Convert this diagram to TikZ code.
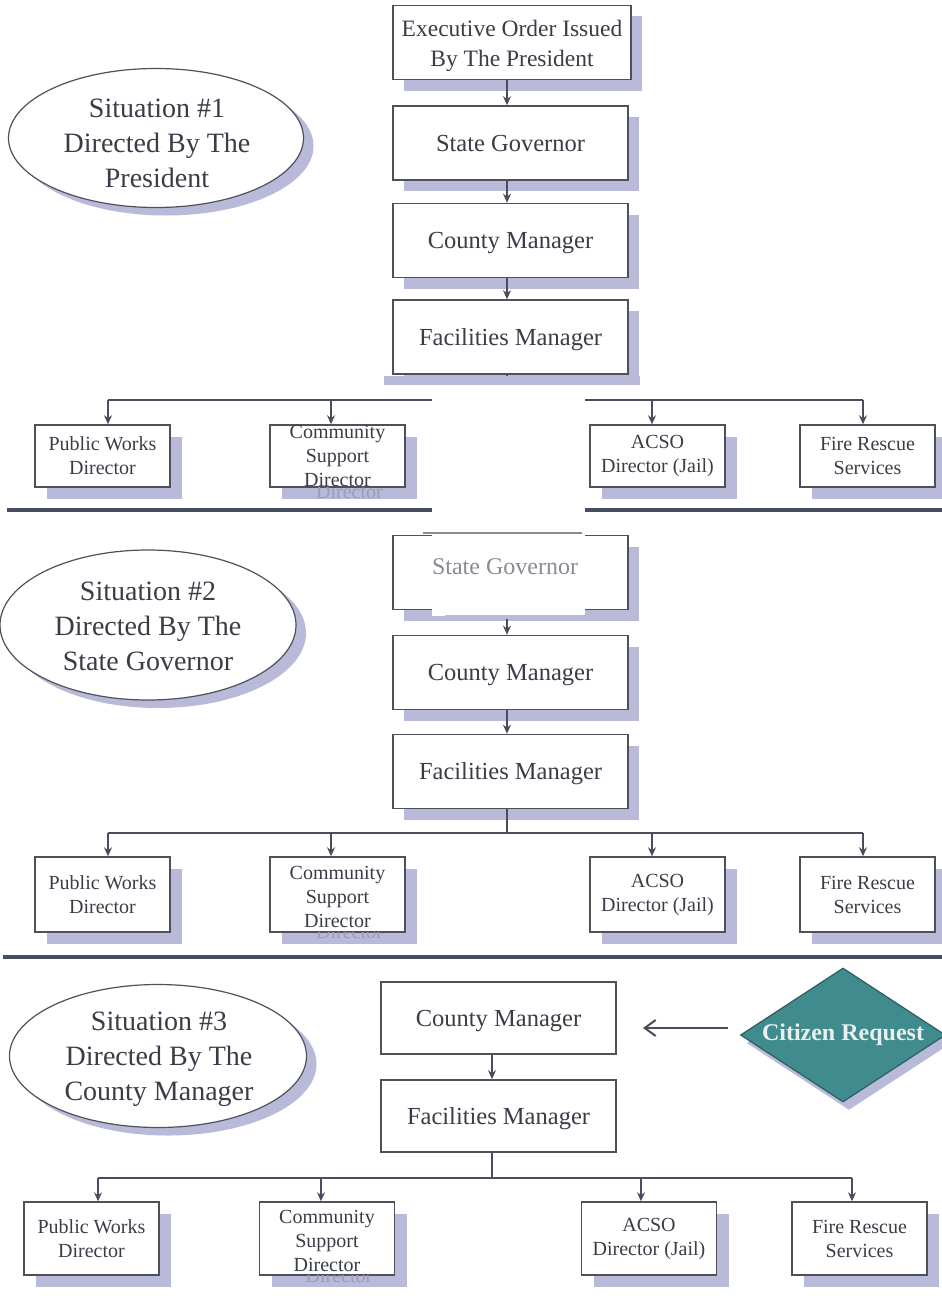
\documentclass[tikz,border=0pt]{standalone}
\usepackage{fontspec}
\setmainfont{Liberation Serif}
\usetikzlibrary{shapes.geometric,shadows,arrows.meta,calc}
\definecolor{shad}{HTML}{B9B9D9}
\definecolor{boxc}{HTML}{505059}
\definecolor{txtc}{HTML}{3C3C48}
\definecolor{linec}{HTML}{4C4C5C}
\definecolor{divc}{HTML}{474D60}
\definecolor{teal}{HTML}{3F8B8D}
\definecolor{tealdark}{HTML}{2E5E60}
\definecolor{ghostc}{HTML}{9C9CB8}
\definecolor{patchtxt}{HTML}{8A8A96}
\begin{document}
\begin{tikzpicture}[x=1pt,y=-1pt,
  mainbox/.style={draw=boxc, line width=1.6pt, fill=white, minimum width=235pt,
    minimum height=74pt, inner sep=0pt, align=center, text=txtc,
    text height=20pt, text depth=4pt,
    font=\fontsize{24.5}{30}\selectfont},
  shbox/.style={mainbox, drop shadow={shadow xshift=11pt, shadow yshift=-11pt, fill=shad, opacity=1}},
  dirbox/.style={draw=boxc, line width=1.5pt, fill=white, minimum width=135pt,
    inner sep=0pt, align=center, text=txtc, font=\fontsize{20}{24}\selectfont,
    drop shadow={shadow xshift=12pt, shadow yshift=-12pt, fill=shad, opacity=1}},
  dirtext/.style={align=center, text=txtc, inner sep=0pt, font=\fontsize{20}{24}\selectfont},
  ghost/.style={align=center, text=ghostc, inner sep=0pt, font=\fontsize{20}{24}\selectfont},
  oval/.style={ellipse, draw=boxc, line width=1.2pt, fill=white, inner sep=0pt,
    drop shadow={shadow xshift=10pt, shadow yshift=-8pt, fill=shad, opacity=1}},
  ovaltext/.style={align=center, text=txtc, inner sep=0pt, font=\fontsize{28}{35}\selectfont},
  conn/.style={draw=linec, line width=1.5pt},
  arr/.style={conn, -{Stealth[length=9pt,width=8pt]}},
  divider/.style={draw=divc, line width=4.5pt}
]
\useasboundingbox (0,0) rectangle (942,1298);
\fill[white] (0,0) rectangle (942,1298);

% ---------------- Situation 1 ----------------
\node[oval, minimum width=295pt, minimum height=139pt] (el1) at (156,138) {};
\node[ovaltext] (el1t) at (157,143) {Situation \#1\\Directed By The\\President};
\node[shbox, minimum width=238pt] (ex1) at (512,42.5) {};
\node[align=center, text=txtc, inner sep=0pt, font=\fontsize{23.5}{30}\selectfont] (ex1t) at (512,46) {Executive Order Issued\\By The President};
\node[shbox] (sg1) at (510.5,143) {State Governor};
\node[shbox] (cm1) at (510.5,240.5) {County Manager};
\node[shbox] (fm1) at (510.5,337) {Facilities Manager};
\coordinate (v1) at (507,0);
\draw[arr] (ex1.south -| v1) -- (sg1.north -| v1);
\draw[arr] (sg1.south -| v1) -- (cm1.north -| v1);
\draw[arr] (cm1.south -| v1) -- (fm1.north -| v1);
\coordinate (j1) at (507,400);
\coordinate (a1) at (108,400);
\coordinate (b1) at (331,400);
\coordinate (c1) at (652,400);
\coordinate (d1) at (863,400);
\draw[conn] (fm1.south -| v1) -- (j1);
\draw[conn] (a1) -- (d1);
\node[dirbox, minimum height=62pt] (pw1) at (102.5,456) {Public Works\\Director};
\node[dirbox, minimum height=62pt] (cs1) at (337.5,456) {};
\node[dirbox, minimum height=62pt] (ac1) at (657.5,456) {ACSO\\Director (Jail)};
\node[dirbox, minimum height=62pt] (fr1) at (867.5,456) {Fire Rescue\\Services};
\begin{scope}
  \clip (cs1.south west) rectangle ++(147,14);
  \node[ghost] (cs1g) at ($(cs1.center)+(12,12)$) {Community\\Support\\Director};
\end{scope}
\node[dirtext] (cs1t) at (cs1.center) {Community\\Support\\Director};
\draw[arr] (a1) -- (a1 |- pw1.north);
\draw[arr] (b1) -- (b1 |- cs1.north);
\draw[arr] (c1) -- (c1 |- ac1.north);
\draw[arr] (d1) -- (d1 |- fr1.north);

\draw[divider] (7,510) -- (942,510);

% ---------------- Situation 2 ----------------
\node[oval, minimum width=296pt, minimum height=150pt] (el2) at (148,625) {};
\node[ovaltext] (el2t) at (148,626) {Situation \#2\\Directed By The\\State Governor};
\node[shbox] (sg2) at (510.5,572.5) {};
\node[shbox] (cm2) at (510.5,672.5) {County Manager};
\node[shbox] (fm2) at (510.5,771.5) {Facilities Manager};
\draw[arr] (sg2.south -| v1) -- (cm2.north -| v1);
\draw[arr] (cm2.south -| v1) -- (fm2.north -| v1);
\coordinate (a2) at (108,833);
\coordinate (b2) at (331,833);
\coordinate (c2) at (652,833);
\coordinate (d2) at (863,833);
\draw[conn] (fm2.south -| v1) -- (v1 |- a2);
\draw[conn] (a2) -- (d2);
\node[dirbox, minimum height=75pt] (pw2) at (102.5,894.5) {Public Works\\Director};
\node[dirbox, minimum height=75pt] (cs2) at (337.5,894.5) {};
\node[dirbox, minimum height=75pt] (ac2) at (657.5,894.5) {ACSO\\Director (Jail)};
\node[dirbox, minimum height=75pt] (fr2) at (867.5,894.5) {Fire Rescue\\Services};
\begin{scope}
  \clip (cs2.south west) rectangle ++(147,14);
  \node[ghost] (cs2g) at ($(cs2.center)+(12,13)$) {Community\\Support\\Director};
\end{scope}
\node[dirtext] (cs2t) at ($(cs2.center)+(0,2)$) {Community\\Support\\Director};
\draw[arr] (a2) -- (a2 |- pw2.north);
\draw[arr] (b2) -- (b2 |- cs2.north);
\draw[arr] (c2) -- (c2 |- ac2.north);
\draw[arr] (d2) -- (d2 |- fr2.north);

% patch over the join of the two situations
\fill[shad] (384,376) rectangle (640,385);
\fill[white] (432,385) rectangle (585,616);
\draw[draw=patchtxt, line width=1.4pt] (423,533) -- (582,533);
\node[text=patchtxt, inner sep=0pt, font=\fontsize{24}{30}\selectfont] (sg2t) at (505,567) {State Governor};
\draw[draw=shad, line width=4pt] (445,617) -- (585,617);

\draw[divider] (3,957) -- (942,957);

% ---------------- Situation 3 ----------------
\node[oval, minimum width=297pt, minimum height=143pt] (el3) at (158,1056) {};
\node[ovaltext] (el3t) at (159,1059) {Situation \#3\\Directed By The\\County Manager};
\node[mainbox, minimum height=72pt] (cm3) at (498.5,1018) {County Manager};
\node[mainbox, minimum height=72pt] (fm3) at (498.5,1116) {Facilities Manager};
\coordinate (v3) at (492,0);
\draw[arr] (cm3.south -| v3) -- (fm3.north -| v3);
\coordinate (a3) at (98,1178);
\coordinate (b3) at (321,1178);
\coordinate (c3) at (641,1178);
\coordinate (d3) at (852,1178);
\draw[conn] (fm3.south -| v3) -- (v3 |- a3);
\draw[conn] (a3) -- (d3);
\node[dirbox, minimum height=73pt] (pw3) at (91.5,1238.5) {Public Works\\Director};
\node[dirbox, minimum height=73pt] (cs3) at (327,1238.5) {};
\node[dirbox, minimum height=73pt] (ac3) at (649,1238.5) {ACSO\\Director (Jail)};
\node[dirbox, minimum height=73pt] (fr3) at (859.5,1238.5) {Fire Rescue\\Services};
\begin{scope}
  \clip (cs3.south west) rectangle ++(147,14);
  \node[ghost] (cs3g) at ($(cs3.center)+(12,13)$) {Community\\Support\\Director};
\end{scope}
\node[dirtext] (cs3t) at ($(cs3.center)+(0,2)$) {Community\\Support\\Director};
\draw[arr] (a3) -- (a3 |- pw3.north);
\draw[arr] (b3) -- (b3 |- cs3.north);
\draw[arr] (c3) -- (c3 |- ac3.north);
\draw[arr] (d3) -- (d3 |- fr3.north);

\node[diamond, aspect=1.53, draw=tealdark, line width=1.2pt, fill=teal,
  minimum width=205pt, minimum height=134pt, inner sep=0pt,
  text={rgb,255:red,232;green,240;blue,240},
  font=\bfseries\fontsize{24}{28}\selectfont,
  drop shadow={shadow xshift=6pt, shadow yshift=-8pt, fill=shad, opacity=1}]
  (cit) at (843,1035) {Citizen Request};
\coordinate (cra) at (728,1028);
\coordinate (crb) at (643,1028);
\draw[draw=linec, line width=2pt, -{Straight Barb[length=11pt,width=16pt,line width=2pt]}] (cra) -- (crb);
\end{tikzpicture}
\end{document}
